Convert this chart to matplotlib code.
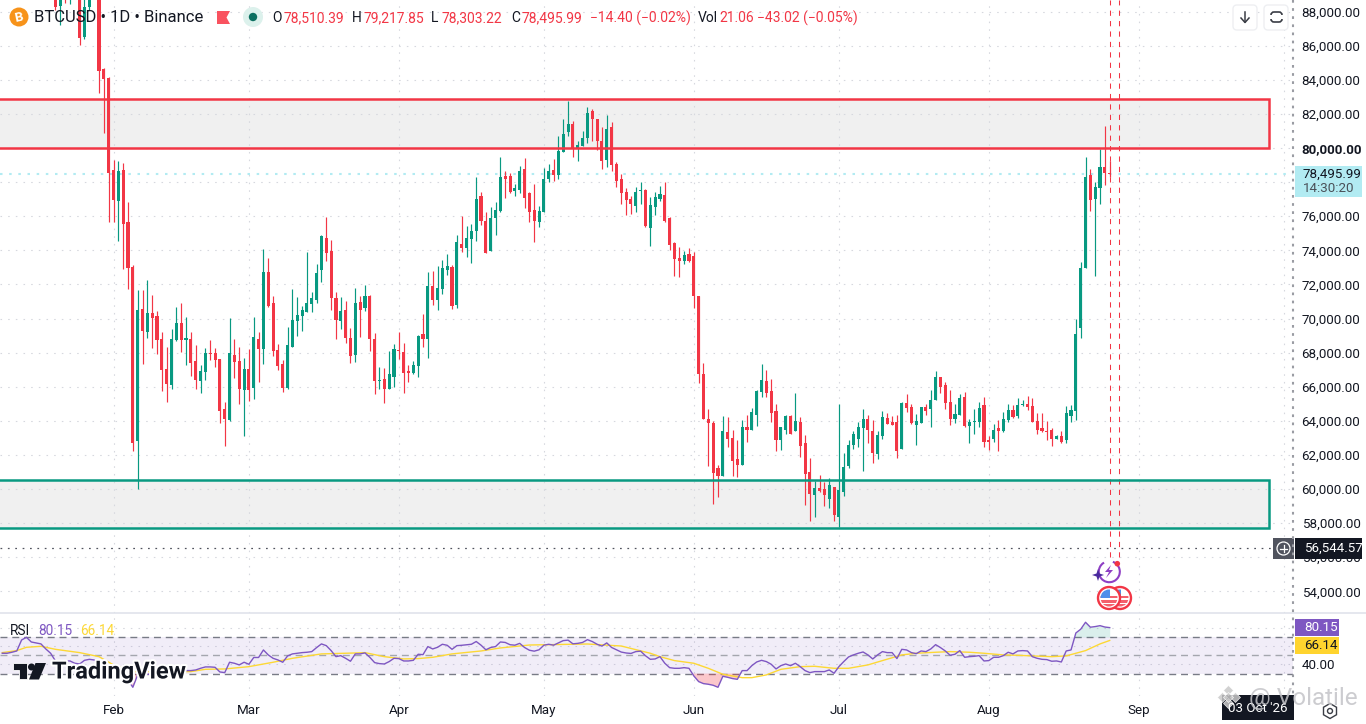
import numpy as np
import pandas as pd
import matplotlib
matplotlib.use("Agg")
import matplotlib.pyplot as plt
from matplotlib.patches import Rectangle, Circle, Polygon, FancyBboxPatch, RegularPolygon, Arc
import matplotlib.patheffects as pe

plt.rcParams['font.family'] = ['Roboto', 'DejaVu Sans']

# candles, one per day, first one is 12 days before 1 Feb
first_day = -12
opens = [
    89700,88330,90000,89300,89800,89700,86510,88270,89400,89200,
    84630,84110,78710,76890,78710,75660,73020,62830,70570,69220,
    70340,70160,68810,67040,66100,68750,69750,68750,68810,67510,
    66340,66870,67980,67980,67630,64690,64040,67870,67510,65810,
    67040,65925,68810,68220,72750,70920,68160,67340,65925,68340,
    69865,70160,70390,70865,71100,72865,74745,73980,71220,69865,
    70510,68865,67865,70980,70630,71335,68810,66335,66455,65870,
    66570,68160,68060,66945,66830,67240,69120,68770,71885,71060,
    71710,72825,73000,70770,74355,74120,74650,75120,77180,75710,
    73945,75885,76295,78355,78355,77470,77530,78765,77355,76355,
    75650,76240,78180,78710,78415,79765,80940,81410,79940,80120,
    80590,82175,81705,80410,79295,81235,79060,78180,77415,77000,
    76590,77470,77530,75295,76530,77000,77235,75885,74415,73530,
    73355,73770,73650,71300,66726,64080,63845,61258,60790,63315,
    63020,61785,61435,63610,63490,64315,65665,66315,65725,64550,
    62845,63435,64255,63375,63905,62725,61020,59670,60080,60020,
    59435,60140,58375,59845,61375,62610,62960,63550,64080,63375,
    62080,63080,64140,63905,63905,62375,65020,64785,63725,63845,
    64785,64670,65195,66550,66080,65080,64080,64315,65375,63670,
    63905,63905,64900,62845,62905,63550,63430,64020,64610,64255,
    64905,64960,64845,63960,63550,63430,63490,62960,63080,62845,
    64300,64595,69416,72990,78410,77000,77650,78880,78510.39,
]
highs = [
    90000,89800,90300,90100,90400,90000,89000,89900,89900,89500,
    84700,84150,79300,79240,79120,76830,73140,71690,71690,72280,
    71390,70450,69220,68340,69395,70690,70920,70100,69220,68450,
    67280,68280,68750,68280,67630,65100,70040,68810,68340,67690,
    68220,70100,69220,74100,73570,71330,68510,67570,69510,71750,
    71280,70750,73920,71570,73220,74920,75980,74630,71570,71280,
    71040,69450,71810,71330,71980,71390,69160,67160,67100,68100,
    68510,69220,68590,67300,67530,69060,70240,72710,72765,73060,
    73410,73765,73120,74880,76000,75410,75530,78295,77410,76240,
    76530,76825,79470,78650,78530,77885,78940,79410,77410,77885,
    76590,78825,79060,79355,80705,81705,82765,81590,80410,81000,
    82410,82295,81705,81235,81940,81530,79175,78470,77650,77180,
    77705,78000,77590,77120,77415,77765,78000,75945,74475,74180,
    73945,74120,73885,71300,67373,64670,63960,61435,64255,64200,
    63490,62845,64045,64315,64725,65785,67315,66960,66430,64960,
    63610,64315,64315,65610,64200,63140,61845,60495,60845,60435,
    60670,60140,64960,62140,62845,63375,63905,64670,64315,64045,
    63375,64550,64430,64255,64315,65080,65550,64960,64375,64785,
    64960,65785,66900,66550,66255,65785,64960,65550,65670,64080,
    64670,65080,65375,63080,63785,64020,64490,64960,64905,65315,
    65200,65430,65315,64430,64430,63960,63550,63140,63375,64845,
    64945,69945,73300,79470,78765,78000,79940,81293,79217.85,
]
lows = [
    88090,87210,88500,88470,89200,86040,86390,88090,88800,83230,
    80880,75660,75660,74560,72900,71730,62230,60000,67360,68885,
    68280,67925,65750,65100,65870,68690,68040,67280,66630,65870,
    65630,66400,67570,67160,63870,62515,64000,66515,64985,63100,
    65160,65280,66280,67340,70690,67810,66980,65690,65870,68340,
    68985,69280,70390,70390,70920,72160,73395,70510,68810,69395,
    68570,67395,67455,68925,70450,68100,65570,65870,65040,65870,
    65985,67630,65650,66300,66770,66590,68300,67710,70770,70470,
    71410,72530,70530,70590,73885,73590,73240,74530,75470,73825,
    73945,74885,76240,77060,77355,77180,77355,76470,75650,74470,
    75355,76240,78000,78060,78180,79765,80705,79470,79235,80120,
    80295,80410,79880,78765,78885,78650,77705,76705,76060,76120,
    76240,76705,75355,74240,76060,76885,75650,74000,72475,72415,
    73180,73295,70590,66196,64080,61375,59140,59550,60790,62490,
    60790,60730,61435,62785,63435,63670,65375,65375,63905,62255,
    62315,63200,63255,63375,61905,59080,58140,58375,59845,59025,
    58905,58140,57790,59610,61255,62375,62490,61080,62725,61550,
    61785,62960,63785,63725,61845,62375,64490,63785,62610,63845,
    64315,63610,65195,65610,64670,63725,63845,64315,63610,62725,
    63255,63610,62435,62315,62785,62255,63315,63905,64140,64140,
    64845,64610,63905,63200,63315,62845,62550,62905,62670,62725,
    63950,64065,68830,72990,76295,72475,76700,77825,78303.22,
]
closes = [
    88270,89500,89200,89900,89500,86450,88270,89300,89200,84520,
    84050,78530,76950,78650,75540,72960,62720,70510,69280,70340,
    70040,68750,66980,66160,68810,69750,68750,68870,67395,66400,
    66925,67980,67925,67570,64570,64100,67980,67455,65870,67040,
    65810,68925,68220,72750,70750,68100,67220,65925,68450,69925,
    70220,70510,70920,71220,72690,74860,73865,71220,69925,70450,
    68865,67810,70920,70510,71335,68810,66335,66400,65870,66750,
    68220,68100,66830,66830,67300,68945,68770,71885,71060,71765,
    72940,73060,70710,74470,74120,74705,75120,77000,75710,73825,
    75885,76355,78295,78180,77415,77650,78650,77060,76240,75710,
    76295,78180,78650,78415,79825,80825,81410,80000,80175,80590,
    82060,81705,80410,79235,81120,79000,78060,77355,76940,76705,
    77415,77530,75415,76650,77120,77295,75710,74295,73470,73355,
    73710,73355,71300,66746,64080,63845,60963,60790,63375,62960,
    61670,61435,63610,63435,64490,65725,66375,65610,64430,62845,
    63610,64255,63255,63960,62550,60905,59730,60080,59905,59670,
    60255,58495,59965,61315,62610,63200,63610,64080,63490,62140,
    63140,64200,63785,63725,62255,65020,64725,63845,63960,64785,
    64550,65195,66550,65960,65020,64080,64375,65315,63670,63905,
    63960,64725,62785,62785,63490,63430,64080,64610,64200,64905,
    64960,64785,63905,63490,63375,63315,62960,63080,62785,64430,
    64650,69120,72990,78295,76940,77705,78880,78530,78495.99,
]

# RSI pane, one value per day from 23 days before 1 Feb
rsi_first_day = -23
rsi_values = [
    52.2,52.2,53.3,54.7,66.7,69.6,64.5,63.4,62.4,56.9,52.2,43.8,43.5,43.8,43.8,41.3,40.5,44.5,45.6,44.9,
    42.0,39.5,32.2,32.2,35.8,28.6,23.1,15.1,28.6,27.5,29.6,28.6,27.5,25.6,24.9,29.6,32.2,32.2,33.3,33.3,
    34.0,35.8,37.3,37.3,36.9,31.8,31.1,42.4,41.3,39.5,42.4,40.2,47.6,47.6,55.8,50.4,46.7,44.9,42.4,49.3,
    51.5,52.2,52.9,53.3,54.0,58.4,62.4,60.5,55.1,48.5,49.6,46.7,43.5,51.5,51.5,52.6,47.8,42.0,40.9,40.5,
    43.1,46.7,46.4,43.8,43.8,44.5,51.1,50.7,59.5,56.9,58.7,62.0,60.9,56.5,60.5,60.9,61.5,62.0,65.0,61.0,
    56.0,58.5,59.5,64.5,64.0,61.5,61.0,63.0,58.5,55.5,54.5,56.0,61.0,62.0,61.0,63.5,66.0,66.5,62.5,63.0,
    64.0,67.0,65.0,62.0,60.0,63.5,58.5,56.0,53.5,52.5,52.0,54.0,54.5,49.5,45.6,46.0,48.5,41.3,36.5,35.8,
    35.8,36.5,35.8,27.5,21.3,19.1,18.4,17.3,15.1,27.1,26.0,24.6,23.8,33.3,33.3,38.7,42.7,44.5,43.1,40.2,
    35.1,38.7,40.5,38.7,41.3,37.6,33.3,31.1,32.2,32.2,32.2,34.0,30.4,37.6,43.1,48.2,50.4,52.2,53.6,50.4,
    46.0,50.4,54.0,52.9,52.9,46.4,56.5,55.8,52.9,51.8,54.7,54.0,56.9,61.6,58.4,54.7,50.0,51.1,55.1,47.8,
    48.5,48.9,49.6,43.8,44.2,47.8,47.8,49.6,53.3,51.5,54.7,55.1,54.7,48.5,46.7,45.6,45.3,43.5,43.8,42.7,
    54.7,55.8,74.3,78.4,86.0,80.6,81.3,82.3,80.8,80.15,
]
# yellow RSI average, read at these days
ma_days = [-23,-20,-18,-15,-12,-7,-3,0,4,16,19,23,28,33,37,43,50,52,56,60,63,66,70,76,80,86,98,105,
           111,113,116,120,123,126,130,132,135,138,142,145,149,152,156,159,163,166,170,173,177,180,
           184,187,190,194,197,201,204,206]
ma_values = [52.9,55.1,58.7,59.8,56.5,52.9,48.5,39.5,32.2,32.2,34.7,35.1,37.6,42.4,46.7,51.5,52.5,52.9,
             48.5,46.0,46.4,47.8,51.5,54.7,58.0,61.2,62.3,60.1,
             52.2,48.5,44.2,41.3,35.8,29.3,25.6,25.6,28.6,34.7,37.6,38.0,35.8,35.8,39.5,44.2,50.4,52.2,
             53.3,54.0,53.3,52.2,50.4,50.0,49.3,48.5,49.3,55.1,62.4,66.14]

price_ticks = [54000,56000,58000,60000,62000,64000,66000,68000,70000,72000,74000,76000,78000,80000,82000,84000,86000,88000]
month_dates = ['2026-02-01','2026-03-01','2026-04-01','2026-05-01','2026-06-01','2026-07-01','2026-08-01','2026-09-01','2026-10-01']
month_labels = ['Feb','Mar','Apr','May','Jun','Jul','Aug','Sep','']
resistance = (80000, 82870)
support = (57715, 60530)
last_price = 78495.99
cross_price = 56544.57
event_days = [206, 208]
zone_end_day = 239

W, H = 1366, 724
GREEN = '#089981'
RED = '#F23645'
PURPLE = '#7E57C2'
YELLOW = '#FDD835'
INK = '#131722'
GRID = '#D6D8DE'
SCALE_X = 1293

days = first_day + np.arange(len(opens))
opens, highs, lows, closes = map(np.array, (opens, highs, lows, closes))
up = closes >= opens
colors = np.where(up, GREEN, RED)
month_days = (pd.to_datetime(month_dates) - pd.Timestamp('2026-02-01')).days.values
rsi_days = rsi_first_day + np.arange(len(rsi_values))
rsi_values = np.array(rsi_values)

fig = plt.figure(figsize=(W / 100, H / 100), dpi=100)
ax = fig.add_axes([0, (H - 613) / H, SCALE_X / W, 613 / H])
ax2 = fig.add_axes([0, (H - 696) / H, SCALE_X / W, 83 / H])
dot = (0, (1.4, 5.5))
for a in (ax, ax2):
    a.set_xlim(-23.47, 243.9)
    a.set_xticks(month_days)
    a.grid(True, color=GRID, lw=0.8, ls=dot)
    a.set_axisbelow(True)
    a.tick_params(length=0, colors=INK, labelsize=9.6)
    a.yaxis.tick_right()
    for s in a.spines.values():
        s.set_visible(False)

# price pane, the 78,000 label sits under the last price box
ax.set_ylim(52728, 88680)
ax.set_yticks(price_ticks)
ax.set_yticklabels(['' if p == 78000 else f'{p:,.2f}' for p in price_ticks])
ax.tick_params(axis='y', pad=6.2)
ax.tick_params(axis='x', labelbottom=False)
for lab, p in zip(ax.get_yticklabels(), price_ticks):
    if p == 80000:
        lab.set_fontweight('bold')

for lo, hi, col in ((resistance[0], resistance[1], RED), (support[0], support[1], GREEN)):
    ax.add_patch(Rectangle((-40, lo), zone_end_day + 40, hi - lo, fc='#F0F0F0', ec='none', zorder=0.4))
    ax.add_patch(Rectangle((-40, lo), zone_end_day + 40, hi - lo, fc='none', ec=col, lw=1.8, zorder=6))

ax.axhline(last_price, color='#B2EBF2', lw=1.5, ls=(0, (1.2, 3.2)), zorder=1.5)
ax.axhline(cross_price, color='#50535E', lw=0.9, ls=(0, (1.4, 4.5)), zorder=1.5)
ax.vlines(days, lows, highs, colors=colors, lw=0.85, zorder=3)
ax.bar(days, np.abs(closes - opens), bottom=np.minimum(opens, closes), width=0.64, color=colors, lw=0, zorder=4)
ax.vlines(event_days, 56000, 88680, colors=RED, lw=0.75, ls=(0, (5, 5)), zorder=5)

# RSI pane
ax2.set_ylim(5.6, 96.1)
ax2.set_yticks([80, 60, 40])
ax2.set_yticklabels(['', '', '40.00'])
ax2.tick_params(axis='y', pad=6.2)
ax2.set_xticklabels(month_labels)
ax2.tick_params(axis='x', pad=6)
ax2.axhspan(30, 70, color=PURPLE, alpha=0.1, lw=0, zorder=0.6)
for level, col in ((70, '#787B86'), (50, '#A4A6AE'), (30, '#787B86')):
    ax2.axhline(level, color=col, lw=1, ls=(0, (5, 3.5)), zorder=1.5)
ax2.fill_between(rsi_days, 70, rsi_values, where=rsi_values > 70, interpolate=True, color=GREEN, alpha=0.15, lw=0, zorder=2)
ax2.fill_between(rsi_days, 30, rsi_values, where=rsi_values < 30, interpolate=True, color=RED, alpha=0.28, lw=0, zorder=2)
ax2.plot(ma_days, ma_values, color=YELLOW, lw=1, zorder=3)
ax2.plot(rsi_days, rsi_values, color=PURPLE, lw=1, zorder=4)

# everything around the chart, in pixels
ov = fig.add_axes([0, 0, 1, 1], zorder=10)
ov.set_xlim(0, W)
ov.set_ylim(H, 0)
ov.axis('off')
ov.patch.set_alpha(0)

ov.plot([0, W], [613, 613], color='#E0E3EB', lw=1.2)
ov.plot([SCALE_X, SCALE_X], [0, 697], color='#9A9CA3', lw=1.5, ls=(0, (1.3, 2.6)))

# header
ov.add_patch(Circle((19, 17), 9.5, fc='#F7931A', ec='none'))
ov.text(19, 17.5, 'B', color='white', fontsize=9.5, fontweight='bold', ha='center', va='center', rotation=12)
ov.text(34, 17.5, 'BTCUSD • 1D • Binance', color=INK, fontsize=12, va='center')
ov.add_patch(Polygon([(217, 11), (230, 11), (226.5, 17.5), (230, 24), (217, 24)], fc='#F9525F', ec='none'))
ov.add_patch(Circle((253, 17), 10, fc='#DCF1EC', ec='none'))
ov.add_patch(Circle((253, 17), 4.2, fc='#0B6F60', ec='none'))
legend_parts = [
    (272, 'O', INK), (283, '78,510.39', RED), (352, 'H', INK), (363, '79,217.85', RED),
    (431, 'L', INK), (442, '78,303.22', RED), (511, 'C', INK), (522, '78,495.99', RED),
    (590, '−14.40 (−0.02%)', RED), (698, 'Vol', INK), (719, '21.06', RED), (757, '−43.02 (−0.05%)', RED),
]
for x, s, c in legend_parts:
    ov.text(x, 18, s, color=c, fontsize=10, va='center')

# buttons
for x0 in (1233, 1264):
    ov.add_patch(FancyBboxPatch((x0 + 3, 8), 18, 19, boxstyle='round,pad=3,rounding_size=4', fc='white', ec='#EEEFF2', lw=1))
ov.plot([1245, 1245], [12, 22], color='#3A3D45', lw=1.1)
ov.plot([1241, 1245, 1249], [18, 22.5, 18], color='#3A3D45', lw=1.1)
ov.add_patch(FancyBboxPatch((1271, 12), 11, 10, boxstyle='round,pad=0,rounding_size=3', fc='none', ec='#3A3D45', lw=1.2))
ov.add_patch(Rectangle((1268, 15), 17, 4, fc='white', ec='none', zorder=3))

# right scale boxes
ov.add_patch(Rectangle((1295, 166), 67, 31, fc='#B2EBF2', ec='none'))
ov.text(1303, 174, '78,495.99', color=INK, fontsize=9.6, va='center')
ov.text(1303, 188, '14:30:20', color='#4A5058', fontsize=9.6, va='center')
ov.add_patch(Rectangle((1273, 538), 21, 21, fc='#50535E', ec='none'))
ov.add_patch(Circle((1283.5, 548.5), 6.5, fc='none', ec='white', lw=0.9))
ov.plot([1280, 1287], [548.5, 548.5], color='white', lw=0.9)
ov.plot([1283.5, 1283.5], [545, 552], color='white', lw=0.9)
ov.add_patch(Rectangle((1295, 538), 67, 21, fc='#131722', ec='none'))
ov.text(1304, 548.5, '56,544.57', color='white', fontsize=9.6, va='center')
ov.add_patch(Rectangle((1295, 619), 44, 17, fc=PURPLE, ec='none'))
ov.text(1304, 627.5, '80.15', color='white', fontsize=9.6, va='center')
ov.add_patch(Rectangle((1295, 637), 44, 17, fc='#FFD42E', ec='none'))
ov.text(1304, 645.5, '66.14', color=INK, fontsize=9.6, va='center')

# RSI legend
ov.text(10, 631, 'RSI', color=INK, fontsize=9.8, va='center')
ov.text(38, 631, '80.15', color=PURPLE, fontsize=9.8, va='center')
ov.text(80, 631, '66.14', color=YELLOW, fontsize=9.8, va='center')

# event icons
ov.add_patch(Arc((1109.3, 571.7), 21, 21, theta1=-70, theta2=240, color='#8E3FC4', lw=1.5))
ov.add_patch(Polygon([(1111, 565), (1105, 572), (1109, 572), (1106, 578), (1113, 570), (1109, 570)], fc='#8E3FC4', ec='none'))
ov.add_patch(Polygon([(1098, 569), (1099.5, 573.5), (1104, 575), (1099.5, 576.5), (1098, 581), (1096.5, 576.5), (1092, 575), (1096.5, 573.5)], fc='#4A2A9E', ec='none'))
ov.add_patch(Circle((1117.3, 563.7), 2.8, fc=RED, ec='none'))
for cx in (1120, 1109):
    ov.add_patch(Circle((cx, 598), 11, fc='white', ec=RED, lw=1.7))
    clip = Circle((cx, 598), 8.5, transform=ov.transData)
    for yy in (595.5, 600, 604):
        r = Rectangle((cx - 9, yy), 18, 2.6, fc='#F4606C', ec='none')
        ov.add_patch(r)
        r.set_clip_path(clip)
    r = Rectangle((cx - 9, 589), 10, 9, fc='#4D8FEA', ec='none')
    ov.add_patch(r)
    r.set_clip_path(clip)

# bottom right
ov.add_patch(Rectangle((1222, 695), 72, 25, fc='#131722', ec='none'))
ov.text(1258, 709, "03 Oct '26", color='white', fontsize=9.6, ha='center', va='center')
ov.add_patch(RegularPolygon((1330, 711), 6, radius=7.5, fc='none', ec='#3A3D45', lw=1))
ov.add_patch(Circle((1330, 711), 2.5, fc='none', ec='#3A3D45', lw=1))

# TradingView logo
halo = [pe.withStroke(linewidth=3, foreground='white')]
ov.text(52, 672, 'TradingView', color='#131722', fontsize=17, fontweight='bold', va='center', path_effects=halo)
ov.add_patch(Polygon([(13, 663), (27, 663), (27, 679), (19, 679), (19, 670), (13, 670)], fc=INK, ec='white', lw=0.6))
ov.add_patch(Circle((31.5, 667), 3.5, fc=INK, ec='none'))
ov.add_patch(Polygon([(35.5, 663), (46, 663), (39, 679.5), (29, 679.5)], fc=INK, ec='none'))

# watermark
for dx, dy in ((1228, 690), (1221.5, 696.5), (1234.5, 696.5), (1228, 703), (1228, 696.5)):
    ov.scatter(dx, dy, marker='D', s=26, fc='#C9C9C9', ec='white', lw=0.5, alpha=0.85)
ov.text(1249, 699, '@ Volatile', color='#C4C4C8', fontsize=17.5, va='center', alpha=0.85)

fig.savefig('out.png', dpi=100)
